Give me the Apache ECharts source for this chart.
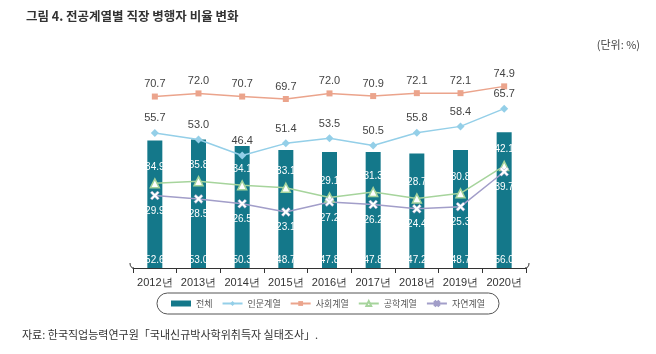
<!DOCTYPE html>
<html>
<head>
<meta charset="utf-8">
<script src="https://cdn.jsdelivr.net/npm/echarts@6/dist/echarts.min.js"></script>
<style>
  html, body { margin: 0; padding: 0; background: #fff; }
  #chart { width: 656px; height: 354px; }
</style>
</head>
<body>
<div id="chart"></div>
<script>
// 연도
const years = ['2012년', '2013년', '2014년', '2015년', '2016년', '2017년', '2018년', '2019년', '2020년'];
// 계열별 직장 병행자 비율 (%)
const total = [52.6, 53.0, 50.3, 48.7, 47.8, 47.8, 47.2, 48.7, 56.0];
const humanities = [55.7, 53.0, 46.4, 51.4, 53.5, 50.5, 55.8, 58.4, 65.7];
const social = [70.7, 72.0, 70.7, 69.7, 72.0, 70.9, 72.1, 72.1, 74.9];
const engineering = [34.9, 35.8, 34.1, 33.1, 29.1, 31.3, 28.7, 30.8, 42.1];
const natural = [29.9, 28.5, 26.5, 23.1, 27.2, 26.2, 24.4, 25.3, 39.7];

const numFont = "'Liberation Sans', Arial, sans-serif";
const krFont = "'Noto Sans CJK KR', sans-serif";
const fmt = p => p.value.toFixed(1);
const crossPath = 'path://M2,0 L5,3 L8,0 L10,2 L7,5 L10,8 L8,10 L5,7 L2,10 L0,8 L3,5 L0,2 Z';

const gridL = 133, gridR = 130, gridB = 86;
const axisY = 354 - gridB;

const chart = echarts.init(document.getElementById('chart'));

chart.setOption({
  animation: false,
  title: {
    text: '그림 4. 전공계열별 직장 병행자 비율 변화',
    left: 21, top: 5,
    textStyle: { fontFamily: krFont, fontSize: 12.5, fontWeight: 'bold', color: '#333' }
  },
  graphic: [
    { type: 'text', right: 16, top: 39,
      style: { text: '(단위: %)', font: '11px ' + krFont, fill: '#444' } },
    { type: 'text', left: 22, top: 329,
      style: { text: '자료: 한국직업능력연구원「국내신규박사학위취득자 실태조사」.', font: '11px ' + krFont, fill: '#333' } },
    // 축 양 끝의 말린 선
    { type: 'bezierCurve', z: 10,
      shape: { x1: gridL + 1, y1: axisY, x2: gridL - 3, y2: axisY - 5, cpx1: gridL - 3, cpy1: axisY },
      style: { stroke: '#333', lineWidth: 1, fill: null } },
    { type: 'bezierCurve', z: 10,
      shape: { x1: 656 - gridR - 1, y1: axisY, x2: 656 - gridR + 3, y2: axisY - 5, cpx1: 656 - gridR + 3, cpy1: axisY },
      style: { stroke: '#333', lineWidth: 1, fill: null } }
  ],
  legend: {
    top: 293, left: 'center',
    padding: [6, 14],
    itemGap: 9,
    itemWidth: 20, itemHeight: 6,
    borderColor: '#555', borderWidth: 1, borderRadius: 11,
    textStyle: { fontFamily: krFont, fontSize: 9, color: '#555' },
    data: [
      { name: '전체', icon: 'rect' },
      '인문계열', '사회계열', '공학계열', '자연계열'
    ]
  },
  grid: { left: gridL, right: gridR, top: 74, bottom: gridB },
  xAxis: {
    type: 'category',
    data: years,
    axisLine: { show: true, lineStyle: { color: '#333', width: 1 } },
    axisTick: { show: true, length: 5, lineStyle: { color: '#333', width: 1 } },
    axisLabel: { interval: 0, fontFamily: numFont, fontSize: 11, color: '#333', margin: 9 }
  },
  yAxis: {
    type: 'value', min: 0, max: 80,
    show: false,
    splitLine: { show: false }
  },
  series: [
    {
      name: '전체', type: 'bar', data: total,
      barWidth: 15,
      itemStyle: { color: '#14788a' },
      label: { show: true, position: 'insideBottom', distance: 3, formatter: fmt,
        color: '#fff', fontFamily: numFont, fontSize: 10 },
      z: 1
    },
    {
      name: '인문계열', type: 'line', data: humanities,
      symbol: 'diamond', symbolSize: 8,
      lineStyle: { color: '#94cfe8', width: 1.5 },
      itemStyle: { color: '#94cfe8' },
      label: { show: true, position: 'top', distance: 5, formatter: fmt,
        color: '#444', fontFamily: numFont, fontSize: 11 },
      z: 3
    },
    {
      name: '사회계열', type: 'line', data: social,
      symbol: 'rect', symbolSize: 6,
      lineStyle: { color: '#eba48c', width: 1.5 },
      itemStyle: { color: '#eba48c' },
      label: { show: true, position: 'top', distance: 4, formatter: fmt,
        color: '#444', fontFamily: numFont, fontSize: 11 },
      z: 3
    },
    {
      name: '공학계열', type: 'line', data: engineering,
      symbol: 'triangle', symbolSize: 9,
      lineStyle: { color: '#a6d49c', width: 1.5 },
      itemStyle: { color: '#fff', borderColor: '#a6d49c', borderWidth: 1.5 },
      label: { show: true, position: 'top', distance: 6, formatter: fmt,
        color: '#fff', fontFamily: numFont, fontSize: 10 },
      z: 3
    },
    {
      name: '자연계열', type: 'line', data: natural,
      symbol: crossPath, symbolSize: 9,
      lineStyle: { color: '#a29ec9', width: 1.5 },
      itemStyle: { color: '#fff', borderColor: '#a29ec9', borderWidth: 0.5 },
      label: { show: true, position: 'bottom', distance: 6, formatter: fmt,
        color: '#fff', fontFamily: numFont, fontSize: 10 },
      z: 3
    }
  ]
});
</script>
</body>
</html>
